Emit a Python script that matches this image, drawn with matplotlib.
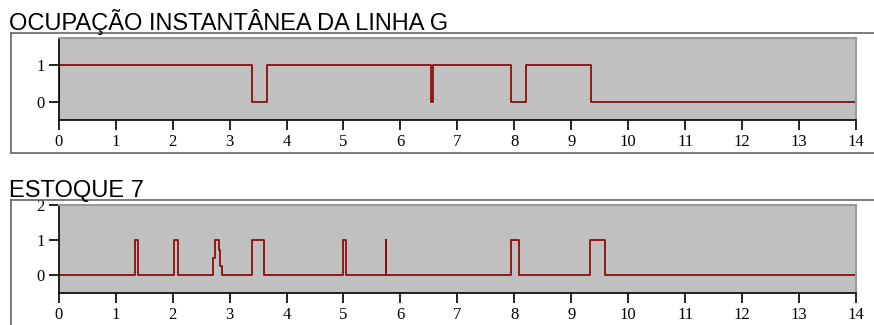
import matplotlib
matplotlib.use('Agg')
import matplotlib.pyplot as plt
from matplotlib.lines import Line2D

# ---------------------------------------------------------------------------
# Données
# ---------------------------------------------------------------------------
linha_t = [0.0, 0.0, 3.39, 3.65, 6.53, 6.57, 7.95, 8.21, 9.34, 14.0]
linha_v = [0, 1, 0, 1, 0, 1, 0, 1, 0, 0]

estoque_t = [0.0, 1.34, 1.39, 2.03, 2.10, 2.716, 2.74, 2.815, 2.84, 2.862,
             3.39, 3.60, 4.99, 5.04, 5.745, 5.755, 7.95, 8.09, 9.33, 9.59, 14.0]
estoque_v = [0, 1, 0, 1, 0, 0.5, 1, 0.72, 0.27, 0,
             1, 0, 1, 0, 1, 0, 1, 0, 1, 0, 0]

x_ticks = list(range(0, 15))

W, H = 874, 325
LINE = '#8e0c0c'
GREY = '#c0c0c0'


def px(x, y):
    return x / W, 1 - y / H


def style_axes(ax, ylim, yticks):
    ax.set_facecolor(GREY)
    ax.set_xlim(0, 14)
    ax.set_ylim(*ylim)
    ax.set_xticks(x_ticks)
    ax.set_yticks(yticks)
    ax.tick_params(axis='both', length=7, width=1.2, colors='black',
                   labelsize=12, pad=3)
    for lab in ax.get_xticklabels() + ax.get_yticklabels():
        lab.set_family('Liberation Serif')
    ax.spines['left'].set_color('black')
    ax.spines['bottom'].set_color('black')
    ax.spines['left'].set_linewidth(1.2)
    ax.spines['bottom'].set_linewidth(1.2)
    ax.spines['top'].set_color('#999999')
    ax.spines['right'].set_color('#999999')
    ax.spines['top'].set_linewidth(1.5)
    ax.spines['right'].set_linewidth(1.5)


fig = plt.figure(figsize=(W / 100, H / 100), dpi=100)

# cadres type "groupbox"
for y in (33, 200):
    fig.add_artist(Line2D([px(11, 0)[0], 1], [px(0, y)[1]] * 2,
                          color='#666666', lw=1.2, transform=fig.transFigure))
fig.add_artist(Line2D([px(11, 0)[0]] * 2, [px(0, 33)[1], px(0, 153)[1]],
                      color='#666666', lw=1.2, transform=fig.transFigure))
fig.add_artist(Line2D([px(11, 0)[0], 1], [px(0, 153)[1]] * 2,
                      color='#666666', lw=1.2, transform=fig.transFigure))
fig.add_artist(Line2D([px(11, 0)[0]] * 2, [px(0, 200)[1], 0],
                      color='#666666', lw=1.2, transform=fig.transFigure))

# Graphique 1 : occupation
x0, x1 = 58.7, 856
ax1 = fig.add_axes([x0 / W, 1 - 120 / H, (x1 - x0) / W, 82 / H])
ax1.step(linha_t, linha_v, where='post', color=LINE, lw=1.3)
style_axes(ax1, (-0.49, 1.73), [0, 1])

# Graphique 2 : estoque
ax2 = fig.add_axes([x0 / W, 1 - 293 / H, (x1 - x0) / W, 88 / H])
ax2.step(estoque_t, estoque_v, where='post', color=LINE, lw=1.3)
style_axes(ax2, (-0.51, 2.0), [0, 1, 2])

fig.text(*px(9, 30), "OCUPAÇÃO INSTANTÂNEA DA LINHA G", fontsize=17,
         family='Liberation Sans', va='baseline', ha='left')
fig.text(*px(9, 197), "ESTOQUE 7", fontsize=17,
         family='Liberation Sans', va='baseline', ha='left')

fig.savefig('out.png', dpi=100)
